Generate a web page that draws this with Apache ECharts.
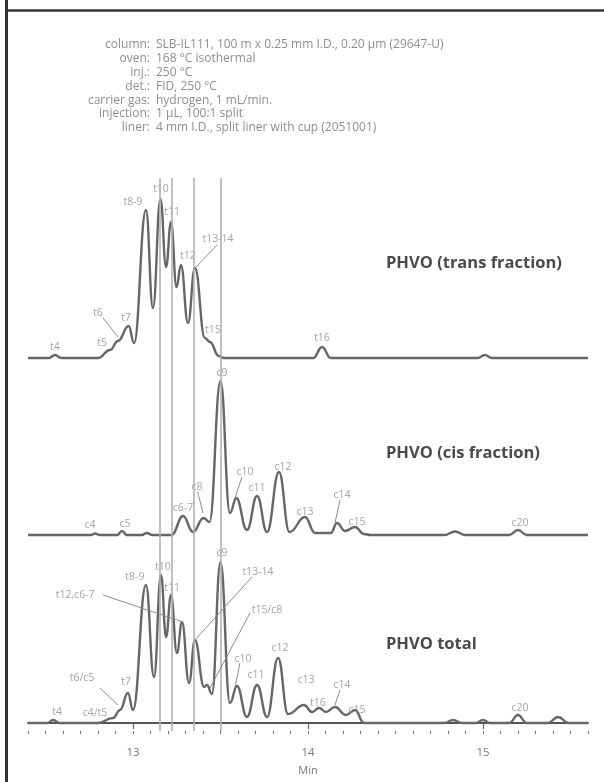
<!DOCTYPE html>
<html><head><meta charset="utf-8">
<script src="https://cdn.jsdelivr.net/npm/echarts@6/dist/echarts.min.js"></script>
<style>html,body{margin:0;padding:0;background:#fff}#c{width:604px;height:782px}</style>
</head><body><div id="c"></div>
<script>
// ---- data (retention time in min, detector signal in arbitrary units) ----
const transData = [
  [12.40,0],[12.52,0],[12.554,3],[12.59,0],[12.80,0],[12.869,8],[12.914,17],[12.975,32],[13.006,15],
  [13.074,148],[13.114,50],[13.157,159],[13.189,91],[13.217,136],[13.249,71],[13.274,93],[13.314,35],
  [13.354,90],[13.411,20],[13.44,16],[13.49,2],[13.52,0],[14.03,0],[14.08,11],[14.13,0],
  [14.97,0],[15.011,3],[15.05,0],[15.60,0]
];
const cisData = [
  [12.40,0],[12.76,0],[12.783,1.5],[12.81,0],[12.91,0],[12.937,4],[12.965,0],[13.05,0],[13.08,2],[13.11,0],
  [13.22,0],[13.286,19],[13.343,3],[13.403,17],[13.437,13],[13.50,154],[13.554,22],[13.59,37],[13.651,5],
  [13.709,39],[13.766,3],[13.834,63],[13.894,3],[13.983,18],[14.04,2],[14.13,2],[14.166,12],[14.211,4],
  [14.269,8],[14.32,1],[14.36,0],[14.78,0],[14.84,3.5],[14.90,0],[15.15,0],[15.20,5],[15.25,0],[15.60,0]
];
const totalData = [
  [12.40,0],[12.51,0],[12.543,3],[12.58,0],[12.80,0],[12.886,5],[12.926,13],[12.971,30],[13.00,13],
  [13.074,138],[13.12,46],[13.16,148],[13.189,86],[13.217,128],[13.251,70],[13.28,101],[13.32,40],
  [13.354,83],[13.406,36],[13.423,38],[13.451,29],[13.50,161],[13.554,20],[13.594,37],[13.651,6],
  [13.709,38],[13.766,6],[13.829,65],[13.886,9],[13.977,18],[14.023,11],[14.063,15],[14.103,11],
  [14.154,16],[14.217,8],[14.269,13],[14.32,0],[14.78,0],[14.829,3],[14.88,0],[14.96,0],[15.00,3],[15.04,0],
  [15.15,0],[15.20,8],[15.25,0],[15.37,0],[15.429,6],[15.49,0],[15.60,0]
];
const transLabels = [
  [12.554,11,'t4'],[12.823,15,'t5'],[12.80,45,'t6'],[12.96,40,'t7'],[13.0,156,'t8-9'],[13.16,169,'t10'],
  [13.223,146,'t11'],[13.314,102,'t12'],[13.486,119,'t13-14'],[13.457,28,'t15'],[14.08,20,'t16']
];
const cisLabels = [
  [12.754,10,'c4'],[12.954,11,'c5'],[13.286,27,'c6-7'],[13.366,48,'c8'],[13.509,162,'c9'],[13.64,63,'c10'],
  [13.709,47,'c11'],[13.857,68,'c12'],[13.983,23,'c13'],[14.194,40,'c14'],[14.28,13,'c15'],[15.211,12,'c20']
];
const totalLabels = [
  [12.566,11,'t4'],[12.783,10,'c4/t5'],[12.709,45,'t6/c5'],[12.96,41,'t7'],[13.011,146,'t8-9'],
  [13.171,156,'t10'],[13.223,135,'t11'],[12.669,128,'t12,c6-7'],[13.714,151,'t13-14'],[13.766,113,'t15/c8'],
  [13.509,170,'c9'],[13.629,64,'c10'],[13.703,48,'c11'],[13.84,75,'c12'],[13.989,43,'c13'],[14.057,20,'t16'],
  [14.194,38,'c14'],[14.28,13,'c15'],[15.211,15,'c20']
];
const transLeaders = [[[12.829,40],[12.914,21]],[[13.48,113],[13.36,91]]];
const cisLeaders = [[[13.37,43],[13.40,22]],[[13.623,58],[13.583,37]],[[14.183,35],[14.154,12]]];
const totalLeaders = [
  [[12.811,35],[12.914,18]],[[12.829,128],[13.286,101]],[[13.68,146],[13.354,83]],
  [[13.669,110],[13.44,35]],[[13.611,60],[13.583,36]],[[14.183,33],[14.154,18]]
];
const vLines = [13.154, 13.217, 13.349, 13.497];
const majorTicks = [13, 14, 15];
const minorTicks = [12.4,12.5,12.6,12.7,12.8,12.9,13.0,13.1,13.2,13.3,13.4,13.5,13.6,13.7,13.8,13.9,14.0,
  14.1,14.2,14.3,14.4,14.5,14.6,14.7,14.8,14.9,15.0,15.1,15.2,15.3,15.4,15.5,15.6];
const headerKeys = ['column:','oven:','inj.:','det.:','carrier gas:','injection:','liner:'];
const headerVals = ['SLB-IL111, 100 m x 0.25 mm I.D., 0.20 μm (29647-U)','168 °C isothermal','250 °C',
  'FID, 250 °C','hydrogen, 1 mL/min.','1 μL, 100:1 split','4 mm I.D., split liner with cup (2051001)'];
const traceTitles = ['PHVO (trans fraction)','PHVO (cis fraction)','PHVO total'];

// ---- chart ----
const FONT = '"Open Sans", "Noto Sans", sans-serif';
const TRACE = '#666666', LABEL = '#8c8c8c';
const chart = echarts.init(document.getElementById('c'), null, {renderer:'canvas'});
const X0 = 12.4, X1 = 15.6;
const grids = [
  {left:28, right:16, top:188, height:172},
  {left:28, right:16, top:375, height:162},
  {left:28, right:16, top:560, height:171},
  {left:28, right:16, top:178, height:553}
];
function hiddenX(i){ return {type:'value', gridIndex:i, min:X0, max:X1, show:false}; }
function hiddenY(i,mn,mx){ return {type:'value', gridIndex:i, min:mn, max:mx, show:false}; }
function traceSeries(i, data, leaders){
  return {type:'line', xAxisIndex:i, yAxisIndex:i, data:data, smooth:0.45, smoothMonotone:'x',
    showSymbol:false, symbol:'none', silent:true, z:3, clip:false,
    lineStyle:{color:TRACE, width:2.4},
    markLine:{silent:true, symbol:['none','none'], label:{show:false},
      lineStyle:{color:'#8c8c8c', width:1, type:'solid'},
      data: leaders.map(l => [{coord:l[0]},{coord:l[1]}])}};
}
function labelSeries(i, labels){
  return {type:'scatter', xAxisIndex:i, yAxisIndex:i, data:labels, symbolSize:1, clip:false, silent:true, z:4,
    itemStyle:{color:'rgba(0,0,0,0)'},
    label:{show:true, position:'inside', formatter:p => p.data[2], color:LABEL, fontSize:10.5, fontFamily:FONT}};
}
const graphics = [
  {type:'line', shape:{x1:6.5, y1:0, x2:6.5, y2:782}, style:{stroke:'#333', lineWidth:3}},
  {type:'line', shape:{x1:6, y1:10.5, x2:604, y2:10.5}, style:{stroke:'#333', lineWidth:2.5}}
];
headerKeys.forEach((k,i) => {
  const y = 45 + 13.8*i;
  graphics.push({type:'text', style:{text:k, x:150, y:y, textAlign:'right', textVerticalAlign:'middle',
    fill:'#8e8e8e', font:'12px ' + FONT}});
  graphics.push({type:'text', style:{text:headerVals[i], x:156, y:y, textAlign:'left', textVerticalAlign:'middle',
    fill:'#8e8e8e', font:'12px ' + FONT}});
});
const titleTops = [253, 443, 634];
const option = {
  backgroundColor:'#fff',
  animation:false,
  title: traceTitles.map((t,i) => ({text:t, left:386, top:titleTops[i], padding:0,
    textStyle:{fontSize:16.5, fontWeight:'bold', color:'#4a4a4a', fontFamily:FONT, lineHeight:20}})),
  grid: grids,
  xAxis: [
    hiddenX(0), hiddenX(1),
    {type:'value', gridIndex:2, min:X0, max:X1, position:'bottom',
      axisLine:{show:true, lineStyle:{color:'#555', width:2}},
      axisTick:{show:true, customValues:majorTicks, length:6, lineStyle:{color:'#666', width:1.2}},
      axisLabel:{show:true, customValues:majorTicks, margin:16, color:'#7a7a7a', fontSize:11.5, fontFamily:FONT},
      splitLine:{show:false},
      name:'Min', nameLocation:'middle', nameGap:34,
      nameTextStyle:{color:'#7a7a7a', fontSize:11, fontFamily:FONT}},
    {type:'value', gridIndex:3, min:X0, max:X1, position:'bottom',
      axisLine:{show:false},
      axisTick:{show:true, customValues:minorTicks, length:3, lineStyle:{color:'#777', width:1}},
      axisLabel:{show:false}, splitLine:{show:false}}
  ],
  yAxis: [hiddenY(0,-2,170), hiddenY(1,-2,160), hiddenY(2,-8,163), hiddenY(3,0,1)],
  series: [
    {type:'line', xAxisIndex:3, yAxisIndex:3, data:[[X0,0]], symbol:'none', silent:true, z:1,
      lineStyle:{opacity:0},
      markLine:{silent:true, symbol:['none','none'], label:{show:false},
        lineStyle:{color:'#b2b2b2', width:1.6, type:'solid'},
        data: vLines.map(v => ({xAxis:v}))}},
    traceSeries(0, transData, transLeaders),
    traceSeries(1, cisData, cisLeaders),
    traceSeries(2, totalData, totalLeaders),
    labelSeries(0, transLabels),
    labelSeries(1, cisLabels),
    labelSeries(2, totalLabels)
  ],
  graphic: graphics
};
chart.setOption(option);
</script></body></html>
